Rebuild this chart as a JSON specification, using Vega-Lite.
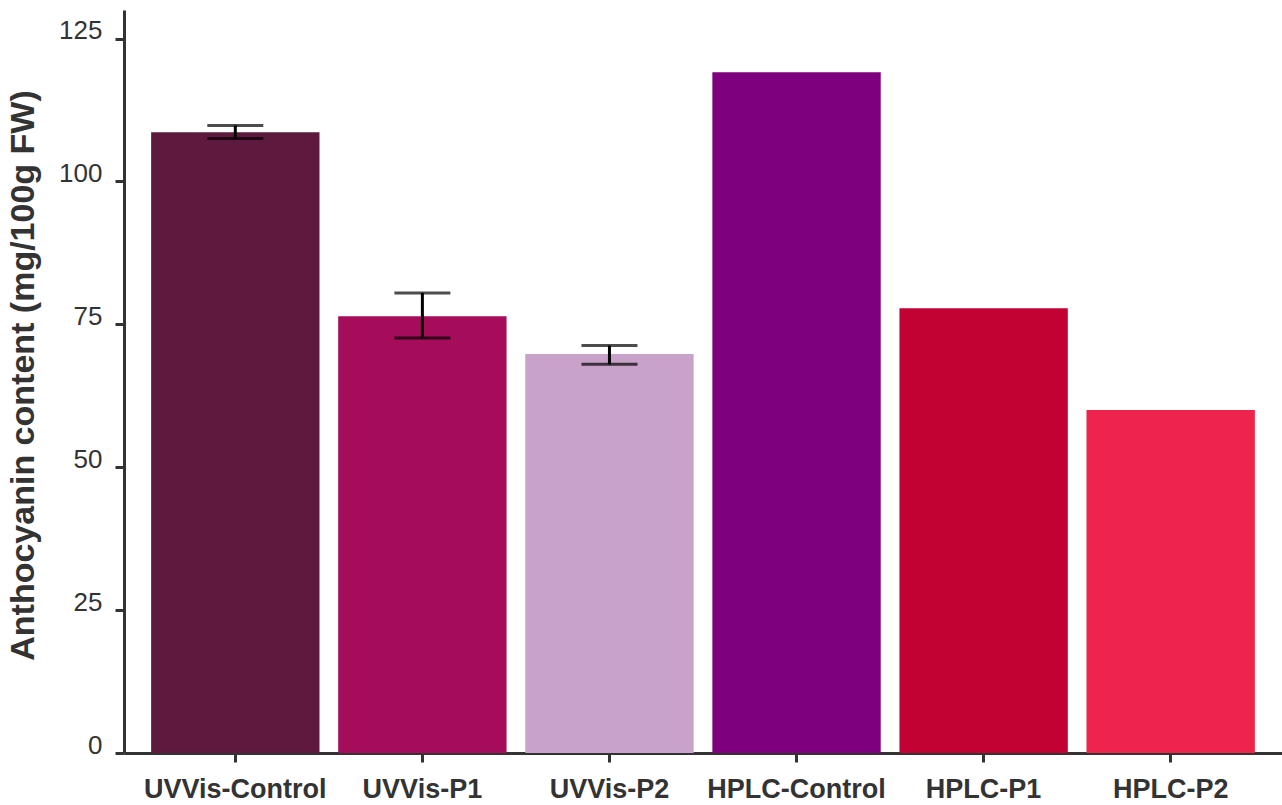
{
  "$schema": "https://vega.github.io/schema/vega-lite/v6.json",
  "autosize": "none",
  "width": 1158,
  "height": 743,
  "padding": {"left": 124, "top": 10, "right": 0, "bottom": 52},
  "background": "white",
  "config": {"view": {"stroke": null}, "font": "Liberation Sans"},
  "data": {"values": [
    {"group": "UVVis-Control", "value": 108.6, "lo": 107.5, "hi": 109.8, "color": "#5E1A3E"},
    {"group": "UVVis-P1", "value": 76.4, "lo": 72.6, "hi": 80.5, "color": "#A50D5B"},
    {"group": "UVVis-P2", "value": 69.8, "lo": 68.0, "hi": 71.3, "color": "#C8A2C9"},
    {"group": "HPLC-Control", "value": 119.1, "color": "#7F007F"},
    {"group": "HPLC-P1", "value": 77.8, "color": "#C20233"},
    {"group": "HPLC-P2", "value": 60.0, "color": "#EF244D"}
  ]},
  "encoding": {
    "x": {
      "field": "group", "type": "nominal", "sort": null,
      "scale": {"paddingInner": 0.1, "paddingOuter": 0.145},
      "axis": {
        "title": null, "labelAngle": 0, "labelFont": "Liberation Sans", "labelFontSize": 27,
        "labelFontWeight": "bold", "labelColor": "#333333", "labelPadding": 14, "labelLimit": 0,
        "domainColor": "#333333", "domainWidth": 3, "tickColor": "#333333", "tickWidth": 3, "tickSize": 9
      }
    }
  },
  "layer": [
    {
      "mark": {"type": "bar"},
      "encoding": {
        "y": {
          "field": "value", "type": "quantitative",
          "scale": {"domain": [0, 130], "nice": false},
          "axis": {
            "title": "Anthocyanin content (mg/100g FW)", "titleFont": "Liberation Sans", "titleFontSize": 34,
            "titleFontWeight": "bold", "titleColor": "#333333", "titlePadding": 18, "titleY": 365,
            "values": [0, 25, 50, 75, 100, 125], "grid": false,
            "labelFont": "Liberation Sans", "labelFontSize": 26, "labelColor": "#333333", "labelPadding": 13,
            "labelBaseline": "alphabetic",
            "domainColor": "#333333", "domainWidth": 3, "tickColor": "#333333", "tickWidth": 3, "tickSize": 9
          }
        },
        "color": {"field": "color", "type": "nominal", "scale": null, "legend": null}
      }
    },
    {
      "transform": [{"filter": "isValid(datum.lo)"}],
      "mark": {"type": "rule", "color": "black", "strokeWidth": 3},
      "encoding": {"y": {"field": "lo", "type": "quantitative"}, "y2": {"field": "hi"}}
    },
    {
      "transform": [{"filter": "isValid(datum.lo)"}],
      "mark": {"type": "tick", "color": "black", "thickness": 3, "size": 56},
      "encoding": {"y": {"field": "lo", "type": "quantitative"}}
    },
    {
      "transform": [{"filter": "isValid(datum.lo)"}],
      "mark": {"type": "tick", "color": "black", "thickness": 3, "size": 56},
      "encoding": {"y": {"field": "hi", "type": "quantitative"}}
    }
  ]
}
